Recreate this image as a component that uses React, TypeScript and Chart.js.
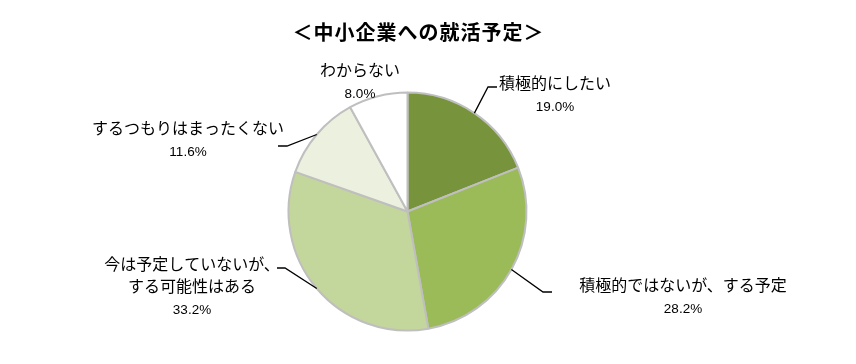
import React, { useEffect, useRef } from "react";
import { Chart, registerables } from "chart.js";

Chart.register(...registerables);

const titleText = "＜中小企業への就活予定＞";
const categories: string[][] = [
  ["積極的にしたい"],
  ["積極的ではないが、する予定"],
  ["今は予定していないが、", "する可能性はある"],
  ["するつもりはまったくない"],
  ["わからない"],
];
const values: number[] = [19.0, 28.2, 33.2, 11.6, 8.0];
const colors: string[] = ["#77933C", "#9BBB59", "#C3D69B", "#EBF1DE", "#FFFFFF"];

// label layout relative to pie centre (px): elbow, end of leader, text centre of first line
const labelLayout = [
  { elbow: [80.5, -124.5], end: [89.5, -124.5], text: [147.5, -128.5] },
  { elbow: [135.5, 80.5], end: [144.5, 80.5], text: [275.5, 73.5] },
  { elbow: [-122.5, 56.5], end: [-130.5, 56.5], text: [-215.5, 52.5] },
  { elbow: [-120.5, -65.5], end: [-129.5, -65.5], text: [-219.5, -83.5] },
  { elbow: null, end: null, text: [-47.5, -141.5] },
];

const JP = '"Noto Sans CJK JP", "Noto Sans", sans-serif';
const NUM = '"Liberation Sans Narrow", "Liberation Sans", Arial, sans-serif';

const labelPlugin = {
  id: "pieLabels",
  afterDatasetsDraw(chart: any) {
    const ctx = chart.ctx;
    const meta = chart.getDatasetMeta(0);
    ctx.save();
    // title
    ctx.fillStyle = "#000000";
    ctx.textAlign = "center";
    ctx.textBaseline = "middle";
    ctx.font = `bold 20px ${JP}`;
    try {
      (ctx as any).letterSpacing = "1px";
    } catch (e) {}
    ctx.fillText(titleText, 410.5, 24);
    try {
      (ctx as any).letterSpacing = "0px";
    } catch (e) {}
    meta.data.forEach((arc: any, i: number) => {
      const { x, y, startAngle, endAngle, outerRadius } = arc.getProps(
        ["x", "y", "startAngle", "endAngle", "outerRadius"],
        true
      );
      const mid = (startAngle + endAngle) / 2;
      const ex = x + Math.cos(mid) * outerRadius;
      const ey = y + Math.sin(mid) * outerRadius;
      const lay = labelLayout[i];
      if (lay.elbow && lay.end) {
        ctx.beginPath();
        ctx.strokeStyle = "#000000";
        ctx.lineWidth = 1.3;
        ctx.moveTo(ex, ey);
        ctx.lineTo(x + lay.elbow[0], y + lay.elbow[1]);
        ctx.lineTo(x + lay.end[0], y + lay.end[1]);
        ctx.stroke();
      }
      const lines = categories[i];
      ctx.fillStyle = "#000000";
      ctx.textAlign = "center";
      ctx.textBaseline = "middle";
      const tx = x + lay.text[0];
      let ty = y + lay.text[1];
      ctx.font = `16px ${JP}`;
      lines.forEach((ln) => {
        ctx.fillText(ln, tx, ty);
        ty += 22;
      });
      ctx.font = `13.5px ${NUM}`;
      ctx.fillText(values[i].toFixed(1) + "%", tx, ty + 2);
    });
    ctx.restore();
  },
};

export default function App() {
  const ref = useRef<HTMLCanvasElement>(null);
  useEffect(() => {
    if (!ref.current) return;
    const chart = new Chart(ref.current, {
      type: "pie",
      data: {
        labels: categories.map((c) => c.join("")),
        datasets: [
          {
            data: values,
            backgroundColor: colors,
            borderColor: "#BFBFBF",
            borderWidth: 2,
          },
        ],
      },
      options: {
        responsive: false,
        animation: false,
        layout: { padding: { left: 0, right: 41, top: 83.5, bottom: 24.5 } },
        plugins: {
          legend: { display: false },
          tooltip: { enabled: false },
          title: { display: false },
        },
      },
      plugins: [labelPlugin],
    });
    return () => chart.destroy();
  }, []);
  return <canvas ref={ref} width={840} height={348} style={{ display: "block" }} />;
}
